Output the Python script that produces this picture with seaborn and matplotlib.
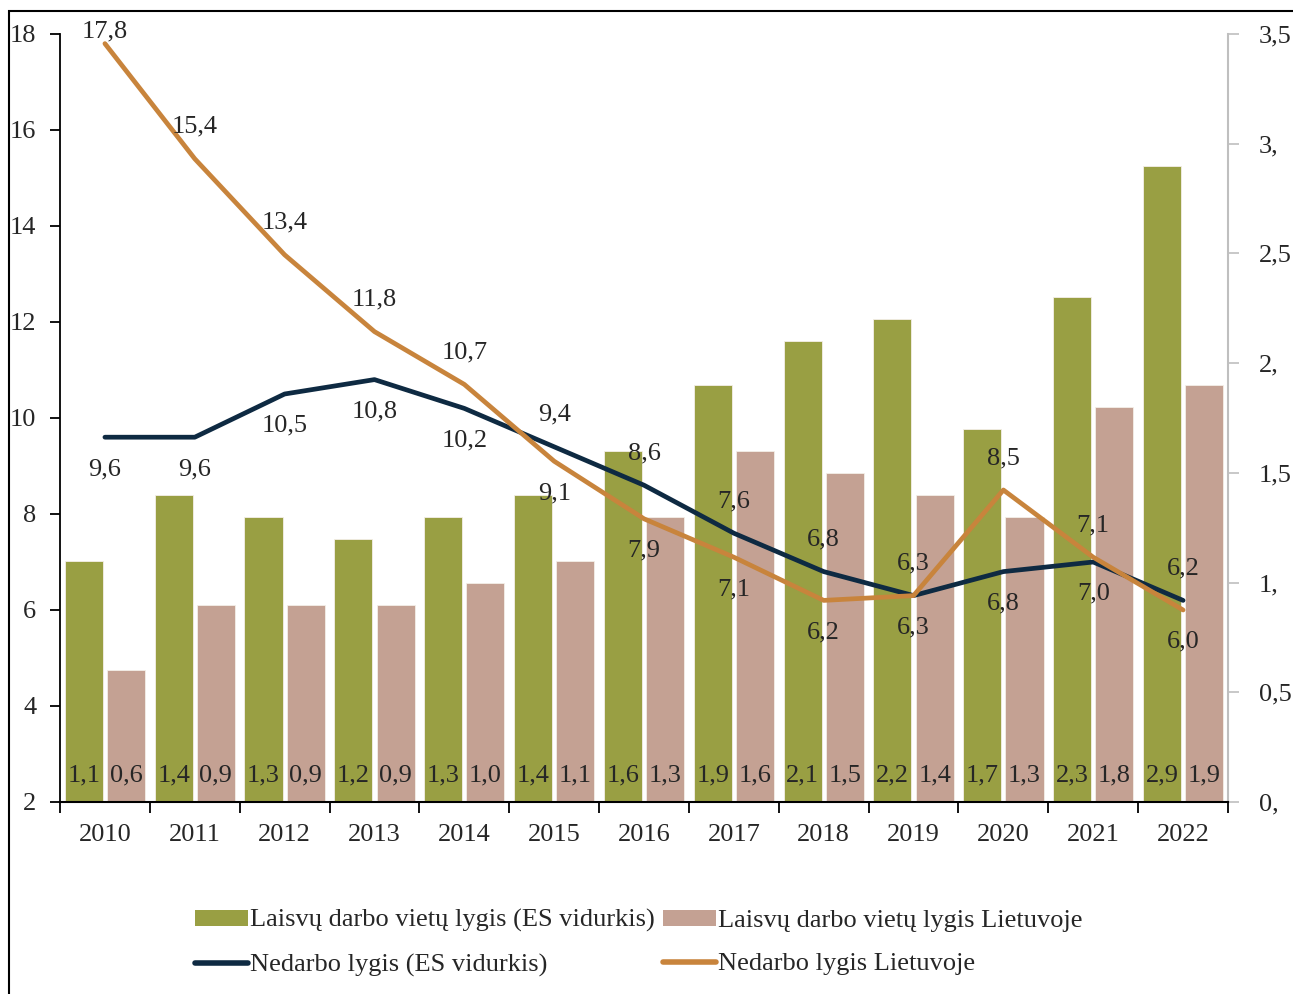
import numpy as np
import pandas as pd
import matplotlib.pyplot as plt
from matplotlib.patches import Patch, Rectangle
from matplotlib.lines import Line2D
import seaborn as sns

# data
years = [2010, 2011, 2012, 2013, 2014, 2015, 2016, 2017, 2018, 2019, 2020, 2021, 2022]
vacancy_eu = [1.1, 1.4, 1.3, 1.2, 1.3, 1.4, 1.6, 1.9, 2.1, 2.2, 1.7, 2.3, 2.9]
vacancy_lt = [0.6, 0.9, 0.9, 0.9, 1.0, 1.1, 1.3, 1.6, 1.5, 1.4, 1.3, 1.8, 1.9]
unemp_eu = [9.6, 9.6, 10.5, 10.8, 10.2, 9.4, 8.6, 7.6, 6.8, 6.3, 6.8, 7.0, 6.2]
unemp_lt = [17.8, 15.4, 13.4, 11.8, 10.7, 9.1, 7.9, 7.1, 6.2, 6.3, 8.5, 7.1, 6.0]
left_ticks = [2, 4, 6, 8, 10, 12, 14, 16, 18]
right_ticks = [0, 0.5, 1, 1.5, 2, 2.5, 3, 3.5]
right_tick_labels = ["0,", "0,5", "1,", "1,5", "2,", "2,5", "3,", "3,5"]

name_vac_eu = "Laisvų darbo vietų lygis (ES vidurkis)"
name_vac_lt = "Laisvų darbo vietų lygis Lietuvoje"
name_un_eu = "Nedarbo lygis (ES vidurkis)"
name_un_lt = "Nedarbo lygis Lietuvoje"

GREEN = "#999F43"
PINK = "#C4A193"
NAVY = "#0E2A42"
ORANGE = "#C8843C"

sns.set_style("ticks")
plt.rcParams['font.family'] = ['Liberation Serif', 'DejaVu Serif']
FS = 19

fig = plt.figure(figsize=(12.93, 9.94), dpi=100)
ax = fig.add_axes([60 / 1293, 1 - 802 / 994, 1168 / 1293, 768 / 994])
ax2 = ax.twinx()

# bars (right axis)
df = pd.DataFrame({
    'year': years * 2,
    'rate': vacancy_eu + vacancy_lt,
    'series': [name_vac_eu] * len(years) + [name_vac_lt] * len(years),
})
sns.barplot(data=df, x='year', y='rate', hue='series', palette=[GREEN, PINK],
            width=0.94, gap=0.1, saturation=1, ax=ax2, legend=False,
            edgecolor='#f4efe8', linewidth=0.6)

# lines (left axis)
pos = np.arange(len(years))
sns.lineplot(x=pos, y=unemp_eu, color=NAVY, lw=3.4, ax=ax)
sns.lineplot(x=pos, y=unemp_lt, color=ORANGE, lw=3.4, ax=ax)

ax.set_zorder(ax2.get_zorder() + 1)
ax.patch.set_visible(False)

# bar labels
for i, (a, b) in enumerate(zip(vacancy_eu, vacancy_lt)):
    ax2.text(i - 0.235, 0.12, f"{a:.1f}".replace('.', ','), ha='center', va='center', fontsize=FS)
    ax2.text(i + 0.235, 0.12, f"{b:.1f}".replace('.', ','), ha='center', va='center', fontsize=FS)

# line labels
eu_side = ['b', 'b', 'b', 'b', 'b', 'a', 'a', 'a', 'a', 'a', 'b', 'b', 'a']
lt_side = ['a', 'a', 'a', 'a', 'a', 'b', 'b', 'b', 'b', 'b', 'a', 'a', 'b']
for vals, sides in [(unemp_eu, eu_side), (unemp_lt, lt_side)]:
    for i, (v, s) in enumerate(zip(vals, sides)):
        dy = 23 if s == 'a' else -23
        if v > 17:
            dy = 9
        ax.annotate(f"{v:.1f}".replace('.', ','), (i, v), xytext=(0, dy),
                    textcoords='offset points', ha='center', va='center', fontsize=FS)

# axes styling
ax.set_xlim(-0.5, len(years) - 0.5)
ax.set_ylim(2, 18)
ax2.set_ylim(0, 3.5)
ax.set_yticks(left_ticks)
ax.set_yticklabels([str(t) for t in left_ticks])
ax2.set_yticks(right_ticks)
ax2.set_yticklabels(right_tick_labels)
ax.set_xticks(pos)
ax.set_xticklabels([str(y) for y in years])
ax.set_xticks(np.arange(-0.5, len(years), 1), minor=True)
ax.set_xlabel('')
ax.set_ylabel('')
ax2.set_xlabel('')
ax2.set_ylabel('')

ax.tick_params(axis='x', which='major', length=0, pad=16, labelsize=FS)
ax.tick_params(axis='x', which='minor', length=8, width=1.3, color='black')
ax.tick_params(axis='y', length=7, width=1.3, color='black', pad=10, labelsize=FS)
ax2.tick_params(axis='y', length=8, width=1.2, color='#BFBFBF', pad=14, labelsize=FS)
for lab in ax2.get_yticklabels():
    lab.set_horizontalalignment('left')

for side in ['top', 'right']:
    ax.spines[side].set_visible(False)
ax.spines['left'].set_color('black')
ax.spines['left'].set_linewidth(1.3)
ax.spines['bottom'].set_color('black')
ax.spines['bottom'].set_linewidth(1.5)
for side in ['top', 'left', 'bottom']:
    ax2.spines[side].set_visible(False)
ax2.spines['right'].set_color('#BFBFBF')
ax2.spines['right'].set_linewidth(1.5)

# legend
handles = [
    Patch(facecolor=GREEN, edgecolor='none', label=name_vac_eu),
    Line2D([], [], color=NAVY, lw=4, solid_capstyle='round', label=name_un_eu),
    Patch(facecolor=PINK, edgecolor='none', label=name_vac_lt),
    Line2D([], [], color=ORANGE, lw=4, solid_capstyle='round', label=name_un_lt),
]
fig.legend(handles=handles, ncol=2, loc='center', bbox_to_anchor=(0.494, 1 - 943 / 994),
           frameon=False, fontsize=FS, handlelength=2.0, handleheight=0.55,
           handletextpad=0.1, columnspacing=0.3, labelspacing=0.8)

# outer frame
fig.patches.append(Rectangle((9 / 1293, -0.1), 1.2, 1.1 - 11 / 994, transform=fig.transFigure,
                             fill=False, edgecolor='black', lw=1.5, clip_on=False))

fig.savefig('out.png', dpi=100)
